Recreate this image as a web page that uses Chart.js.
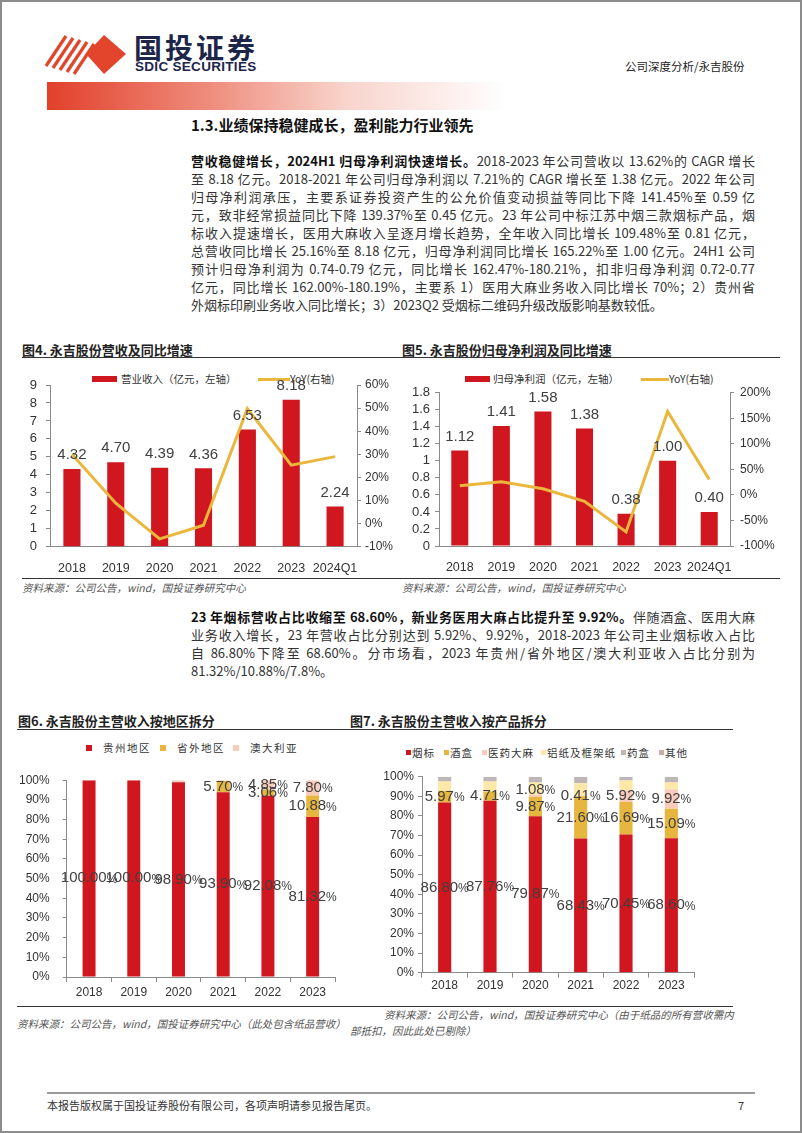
<!DOCTYPE html>
<html><head><meta charset="utf-8">
<script src="https://cdn.jsdelivr.net/npm/chart.js@4.4.1/dist/chart.umd.min.js"></script>
<style>
html,body{margin:0;padding:0;background:#fff;}
body{width:802px;height:1133px;position:relative;overflow:hidden;font-family:"Noto Sans CJK SC","Noto Sans",sans-serif;color:#222;}
.a{position:absolute;white-space:nowrap;}
.frame{position:absolute;left:0;top:0;width:802px;height:1133px;box-sizing:border-box;border:2px solid #8c8c8c;pointer-events:none;}
.para{position:absolute;left:191px;width:564px;font-size:13px;color:#333;}
.para div{height:18px;line-height:18px;text-align:justify;text-align-last:justify;}
.para div.last{text-align-last:left;}
.para b{color:#111;}
.ftitle{position:absolute;font-size:13px;font-weight:bold;color:#222;white-space:nowrap;}
.hline{position:absolute;height:0;border-top:1.5px solid #333;}
.src{position:absolute;font-size:10.5px;font-style:italic;color:#555;white-space:nowrap;}
.lg{position:absolute;font-size:10.5px;color:#333;white-space:nowrap;line-height:14px;}
canvas{position:absolute;}
</style></head>
<body>
<div class="frame"></div>
<!-- header -->
<svg class="a" style="left:40px;top:30px" width="95" height="48" viewBox="0 0 95 48">
  <g stroke="#E2452C" stroke-width="3.2">
    <line x1="6" y1="36" x2="26" y2="6"/>
    <line x1="13" y1="38" x2="33" y2="8"/>
    <line x1="20" y1="40" x2="40" y2="10"/>
    <line x1="27" y1="42" x2="47" y2="12"/>
    <line x1="34" y1="44" x2="54" y2="14"/>
  </g>
  <polygon points="64,5 86,24 64,44 46,24" fill="#E2452C"/>
</svg>
<div class="a" style="left:134px;top:27px;font-size:28px;font-weight:bold;color:#1D2549;letter-spacing:3px;">国投证券</div>
<div class="a" style="left:135px;top:59px;font-size:13.5px;font-weight:bold;color:#1D2549;font-family:'Liberation Sans Narrow','Liberation Sans',sans-serif;letter-spacing:0.3px;">SDIC SECURITIES</div>
<div class="a" style="left:625px;top:58px;font-size:11.5px;color:#222;">公司深度分析/永吉股份</div>
<div class="a" style="left:47px;top:82px;width:460px;height:28px;background:linear-gradient(to right,#E2402A 0%,#EE8C7C 35%,#F8D4CC 65%,rgba(255,255,255,0) 100%);"></div>

<div class="a" style="left:191px;top:114px;font-size:15px;font-weight:bold;color:#111;">1.3.业绩保持稳健成长，盈利能力行业领先</div>

<div class="para" style="top:152px;">
<div><b>营收稳健增长，2024H1 归母净利润快速增长。</b>2018-2023 年公司营收以 13.62%的 CAGR 增长</div>
<div>至 8.18 亿元。2018-2021 年公司归母净利润以 7.21%的 CAGR 增长至 1.38 亿元。2022 年公司</div>
<div>归母净利润承压，主要系证券投资产生的公允价值变动损益等同比下降 141.45%至 0.59 亿</div>
<div>元，致非经常损益同比下降 139.37%至 0.45 亿元。23 年公司中标江苏中烟三款烟标产品，烟</div>
<div>标收入提速增长，医用大麻收入呈逐月增长趋势，全年收入同比增长 109.48%至 0.81 亿元，</div>
<div>总营收同比增长 25.16%至 8.18 亿元，归母净利润同比增长 165.22%至 1.00 亿元。24H1 公司</div>
<div>预计归母净利润为 0.74-0.79 亿元，同比增长 162.47%-180.21%，扣非归母净利润 0.72-0.77</div>
<div>亿元，同比增长 162.00%-180.19%，主要系 1）医用大麻业务收入同比增长 70%；2）贵州省</div>
<div class="last">外烟标印刷业务收入同比增长；3）2023Q2 受烟标二维码升级改版影响基数较低。</div>
</div>

<!-- fig 4 / 5 titles -->
<div class="ftitle" style="left:22px;top:340px;">图4. 永吉股份营收及同比增速</div>
<div class="ftitle" style="left:402px;top:340px;">图5. 永吉股份归母净利润及同比增速</div>
<div class="hline" style="left:22px;top:357px;width:758px;"></div>

<!-- legends fig4 -->
<div class="a" style="left:92px;top:376px;width:25px;height:6px;background:#D0161E;"></div>
<div class="lg" style="left:121px;top:372px;">营业收入（亿元，左轴）</div>
<div class="a" style="left:258px;top:378px;width:32px;height:3px;background:#EAB73C;"></div>
<div class="lg" style="left:290px;top:372px;">YoY(右轴)</div>
<!-- legends fig5 -->
<div class="a" style="left:465px;top:376px;width:25px;height:6px;background:#D0161E;"></div>
<div class="lg" style="left:493px;top:372px;">归母净利润（亿元，左轴）</div>
<div class="a" style="left:641px;top:378px;width:28px;height:3px;background:#EAB73C;"></div>
<div class="lg" style="left:669px;top:372px;">YoY(右轴)</div>

<canvas id="c4" width="400" height="210" style="left:0px;top:365px;width:400px;height:210px;"></canvas>
<canvas id="c5" width="400" height="210" style="left:400px;top:365px;width:400px;height:210px;"></canvas>

<div class="hline" style="left:22px;top:578px;width:758px;"></div>
<div class="src" style="left:22px;top:580px;">资料来源：公司公告，wind，国投证券研究中心</div>
<div class="src" style="left:402px;top:580px;">资料来源：公司公告，wind，国投证券研究中心</div>

<div class="para" style="top:608px;">
<div><b>23 年烟标营收占比收缩至 68.60%，新业务医用大麻占比提升至 9.92%。</b>伴随酒盒、医用大麻</div>
<div>业务收入增长，23 年营收占比分别达到 5.92%、9.92%，2018-2023 年公司主业烟标收入占比</div>
<div>自 86.80%下降至 68.60%。分市场看，2023 年贵州/省外地区/澳大利亚收入占比分别为</div>
<div class="last">81.32%/10.88%/7.8%。</div>
</div>

<!-- fig 6 / 7 -->
<div class="ftitle" style="left:18px;top:711px;">图6. 永吉股份主营收入按地区拆分</div>
<div class="ftitle" style="left:350px;top:711px;">图7. 永吉股份主营收入按产品拆分</div>
<div class="hline" style="left:17px;top:729px;width:716px;"></div>

<div class="a" style="left:86px;top:745px;width:6px;height:6px;background:#D0161E;"></div>
<div class="lg" style="left:103px;top:741px;letter-spacing:1.5px;">贵州地区</div>
<div class="a" style="left:160px;top:745px;width:6px;height:6px;background:#E6B63E;"></div>
<div class="lg" style="left:177px;top:741px;letter-spacing:1.5px;">省外地区</div>
<div class="a" style="left:233px;top:745px;width:6px;height:6px;background:#F8CBBB;"></div>
<div class="lg" style="left:250px;top:741px;letter-spacing:1.5px;">澳大利亚</div>

<div class="a" style="left:406px;top:750px;width:5px;height:5px;background:#D0161E;"></div>
<div class="lg" style="left:412px;top:746px;letter-spacing:1px;">烟标</div>
<div class="a" style="left:444px;top:750px;width:5px;height:5px;background:#E6B63E;"></div>
<div class="lg" style="left:450px;top:746px;letter-spacing:1px;">酒盒</div>
<div class="a" style="left:482px;top:750px;width:5px;height:5px;background:#F8CBBB;"></div>
<div class="lg" style="left:488px;top:746px;letter-spacing:1px;">医药大麻</div>
<div class="a" style="left:541px;top:750px;width:5px;height:5px;background:#FDE8A8;"></div>
<div class="lg" style="left:547px;top:746px;letter-spacing:1px;">铝纸及框架纸</div>
<div class="a" style="left:621px;top:750px;width:5px;height:5px;background:#BFB6B7;"></div>
<div class="lg" style="left:627px;top:746px;letter-spacing:1px;">药盒</div>
<div class="a" style="left:659px;top:750px;width:5px;height:5px;background:#C9ABA2;"></div>
<div class="lg" style="left:665px;top:746px;letter-spacing:1px;">其他</div>

<canvas id="c6" width="370" height="240" style="left:0px;top:760px;width:370px;height:240px;"></canvas>
<canvas id="c7" width="380" height="240" style="left:370px;top:760px;width:380px;height:240px;"></canvas>

<div class="hline" style="left:17px;top:1006px;width:716px;"></div>
<div class="src" style="left:17px;top:1016px;">资料来源：公司公告，wind，国投证券研究中心（此处包含纸品营收）</div>
<div class="src" style="left:384px;top:1007px;">资料来源：公司公告，wind，国投证券研究中心（由于纸品的所有营收需内</div>
<div class="src" style="left:350px;top:1023px;">部抵扣，因此此处已剔除）</div>

<div class="a" style="left:47px;top:1092px;width:708px;height:2px;background:#9a9a9a;"></div>
<div class="a" style="left:47px;top:1097px;font-size:11px;color:#333;">本报告版权属于国投证券股份有限公司，各项声明请参见报告尾页。</div>
<div class="a" style="left:738px;top:1097px;font-size:11px;color:#333;">7</div>

<script>
// ---------- data ----------
const years4 = ['2018','2019','2020','2021','2022','2023','2024Q1'];
const revenue = [4.32, 4.70, 4.39, 4.36, 6.53, 8.18, 2.24];
const revenueYoY = [30.0, 8.8, -6.6, -0.7, 49.8, 25.3, 29.0];

const years5 = ['2018','2019','2020','2021','2022','2023','2024Q1'];
const netProfit = [1.12, 1.41, 1.58, 1.38, 0.38, 1.00, 0.40];
const netProfitYoY = [18.0, 25.9, 12.1, -12.7, -72.5, 163.2, 30.0];

const years6 = ['2018','2019','2020','2021','2022','2023'];
const guizhou = [100.00, 100.00, 98.90, 93.90, 92.08, 81.32];
const outsideProv = [0, 0, 0, 5.70, 3.06, 10.88];
const australia = [0, 0, 1.10, 0.40, 4.85, 7.80];

const years7 = ['2018','2019','2020','2021','2022','2023'];
const cigLabel = [86.80, 87.76, 79.87, 68.43, 70.45, 68.60];
const wineBox = [5.97, 4.71, 9.87, 21.60, 16.69, 15.09];
const medCannabis = [0, 0, 1.08, 0.41, 5.92, 9.92];
const foilPaper = [4.73, 5.03, 6.18, 6.16, 4.94, 3.39];
const medBox = [2.50, 2.50, 3.00, 3.40, 2.00, 3.00];
const others = [0, 0, 0, 0, 0, 0];

// ---------- styles ----------
const RED = '#D0161E', GOLD = '#EAB73C', YEL = '#E6B63E', PINK = '#F8CBBB', LY = '#FDE8A8', GRAY = '#BFB6B7', OTH = '#C9ABA2';
const AX = '#8a8a8a';
const FONT = '"Liberation Sans", Arial, sans-serif';
Chart.defaults.font.family = FONT;
Chart.defaults.color = '#333';

function fixW(w){ return function(s){ s.width = w; }; }
function fixH(h){ return function(s){ s.height = h; }; }

const barTopLabels = {
  id: 'barTopLabels',
  afterDatasetsDraw(chart){
    const ctx = chart.ctx;
    const idx = chart.data.datasets.findIndex(d => d.type === 'bar');
    const meta = chart.getDatasetMeta(idx);
    const data = chart.data.datasets[idx].data;
    ctx.save();
    ctx.font = '15px ' + FONT;
    ctx.fillStyle = '#404040';
    ctx.textAlign = 'center';
    ctx.textBaseline = 'middle';
    meta.data.forEach((el, i) => ctx.fillText(data[i].toFixed(2), el.x, el.y - 14));
    ctx.restore();
  }
};

function pctText(ctx, num, cx, cy){
  ctx.font = '15px ' + FONT;
  const w1 = ctx.measureText(num).width;
  ctx.font = '12px ' + FONT;
  const w2 = ctx.measureText('%').width;
  const x0 = cx - (w1 + w2) / 2;
  ctx.textAlign = 'left';
  ctx.textBaseline = 'middle';
  ctx.font = '15px ' + FONT;
  ctx.fillText(num, x0, cy);
  ctx.font = '12px ' + FONT;
  ctx.fillText('%', x0 + w1, cy + 1);
}

const stackLabels = {
  id: 'stackLabels',
  afterDatasetsDraw(chart, args, opts){
    const ctx = chart.ctx;
    const n = chart.data.labels.length;
    ctx.save();
    ctx.fillStyle = '#404040';
    for (let i = 0; i < n; i++){
      let prevY = Infinity;
      opts.sets.forEach(d => {
        const v = chart.data.datasets[d].data[i];
        if (!(v >= opts.min)) return;
        const el = chart.getDatasetMeta(d).data[i];
        let y = (el.y + el.base) / 2;
        if (opts.avoid && y > prevY - 17) y = prevY - 17;
        prevY = y;
        pctText(ctx, v.toFixed(2), el.x, y);
      });
    }
    ctx.restore();
  }
};

function yAxis(pos, min, max, step, width, fmt, pad, fontSize){
  return {
    position: pos, min: min, max: max,
    border: { display: true, color: AX, width: 1 },
    grid: { drawOnChartArea: false, drawTicks: true, tickLength: 4, color: AX },
    ticks: { stepSize: step, autoSkip: false, padding: pad, color: '#333', font: { size: fontSize }, callback: fmt },
    afterFit: fixW(width)
  };
}
function xAxis(h, pad, size, ticksOn){
  return {
    border: { display: true, color: AX },
    grid: ticksOn ? { display: true, drawOnChartArea: false, offset: true, tickLength: 5, color: AX } : { display: false },
    ticks: { padding: pad, color: '#333', font: { size: size }, autoSkip: false, maxRotation: 0, minRotation: 0 },
    afterFit: fixH(h)
  };
}

// ---------- chart 4 ----------
new Chart(document.getElementById('c4'), {
  data: {
    labels: years4,
    datasets: [
      { type: 'line', label: 'YoY(右轴)', data: revenueYoY, yAxisID: 'y1', borderColor: GOLD, borderWidth: 3, pointRadius: 0, tension: 0, order: 0 },
      { type: 'bar', label: '营业收入（亿元，左轴）', data: revenue, yAxisID: 'y', backgroundColor: RED, categoryPercentage: 1, barPercentage: 0.39, order: 1 }
    ]
  },
  options: {
    responsive: false, animation: false, devicePixelRatio: 1,
    layout: { padding: { top: 20, left: 0, right: 0, bottom: 0 } },
    plugins: { legend: { display: false }, tooltip: { enabled: false } },
    scales: {
      x: xAxis(28.3, 6, 12.5, false),
      y: yAxis('left', 0, 9, 1, 50, v => String(v), 9, 13),
      y1: yAxis('right', -10, 60, 10, 43, v => v + '%', 4, 12)
    }
  },
  plugins: [barTopLabels]
});

// ---------- chart 5 ----------
new Chart(document.getElementById('c5'), {
  data: {
    labels: years5,
    datasets: [
      { type: 'line', label: 'YoY(右轴)', data: netProfitYoY, yAxisID: 'y1', borderColor: GOLD, borderWidth: 3, pointRadius: 0, tension: 0, order: 0 },
      { type: 'bar', label: '归母净利润（亿元，左轴）', data: netProfit, yAxisID: 'y', backgroundColor: RED, categoryPercentage: 1, barPercentage: 0.41, order: 1 }
    ]
  },
  options: {
    responsive: false, animation: false, devicePixelRatio: 1,
    layout: { padding: { top: 27.7, left: 0, right: 0, bottom: 0 } },
    plugins: { legend: { display: false }, tooltip: { enabled: false } },
    scales: {
      x: xAxis(29, 6, 12.5, false),
      y: yAxis('left', 0, 1.8, 0.2, 39, v => { const r = Math.round(v * 10) / 10; return Number.isInteger(r) ? String(r) : r.toFixed(1); }, 5, 13),
      y1: yAxis('right', -100, 200, 50, 70, v => v + '%', 6, 12)
    }
  },
  plugins: [barTopLabels]
});

// ---------- chart 6 ----------
new Chart(document.getElementById('c6'), {
  type: 'bar',
  data: {
    labels: years6,
    datasets: [
      { label: '贵州地区', data: guizhou, backgroundColor: RED },
      { label: '省外地区', data: outsideProv, backgroundColor: YEL },
      { label: '澳大利亚', data: australia, backgroundColor: PINK }
    ]
  },
  options: {
    responsive: false, animation: false, devicePixelRatio: 1,
    layout: { padding: { top: 11.7, left: 0, right: 35, bottom: 0 } },
    datasets: { bar: { categoryPercentage: 1, barPercentage: 0.29 } },
    plugins: { legend: { display: false }, tooltip: { enabled: false },
      stackLabels: { sets: [0, 1, 2], min: 2, avoid: false } },
    scales: {
      x: Object.assign(xAxis(23, 3, 12, true), { stacked: true }),
      y: Object.assign(yAxis('left', 0, 100, 10, 66.7, v => v + '%', 13, 12), { stacked: true })
    }
  },
  plugins: [stackLabels]
});

// ---------- chart 7 ----------
new Chart(document.getElementById('c7'), {
  type: 'bar',
  data: {
    labels: years7,
    datasets: [
      { label: '烟标', data: cigLabel, backgroundColor: RED },
      { label: '酒盒', data: wineBox, backgroundColor: YEL },
      { label: '医药大麻', data: medCannabis, backgroundColor: PINK },
      { label: '铝纸及框架纸', data: foilPaper, backgroundColor: LY },
      { label: '药盒', data: medBox, backgroundColor: GRAY },
      { label: '其他', data: others, backgroundColor: OTH }
    ]
  },
  options: {
    responsive: false, animation: false, devicePixelRatio: 1,
    layout: { padding: { top: 16.7, left: 0, right: 56, bottom: 0 } },
    datasets: { bar: { categoryPercentage: 1, barPercentage: 0.29 } },
    plugins: { legend: { display: false }, tooltip: { enabled: false },
      stackLabels: { sets: [0, 1, 2], min: 0.01, avoid: true } },
    scales: {
      x: Object.assign(xAxis(27.3, 1, 12, true), { stacked: true }),
      y: Object.assign(yAxis('left', 0, 100, 10, 52, v => v + '%', 4, 12), { stacked: true })
    }
  },
  plugins: [stackLabels]
});
</script>
</body></html>
